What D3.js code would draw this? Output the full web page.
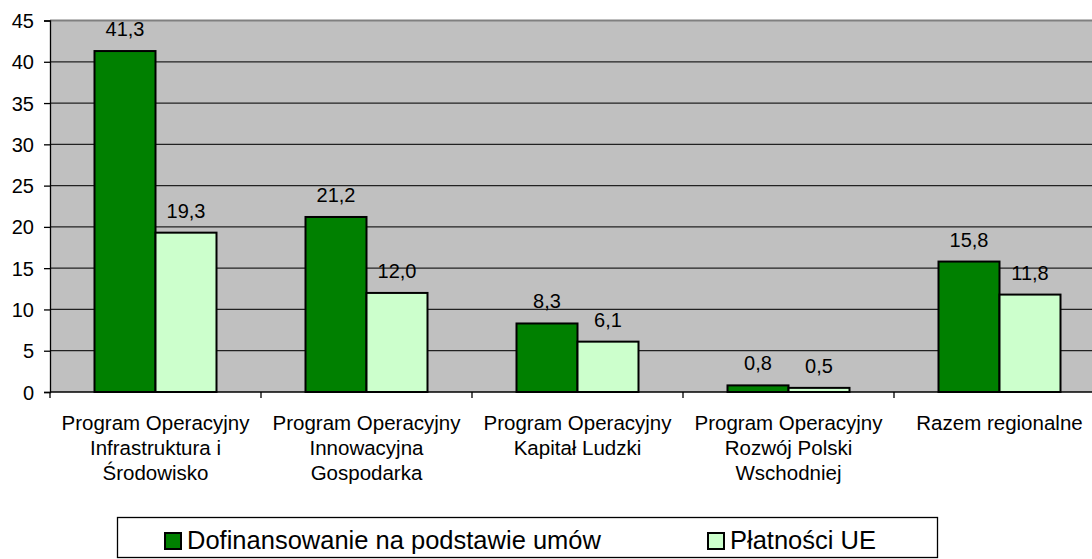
<!DOCTYPE html>
<html>
<head>
<meta charset="utf-8">
<script src="https://cdn.jsdelivr.net/npm/d3@7"></script>
<style>
  body { margin: 0; background: #fff; }
  svg text { font-family: 'Liberation Sans', Arial, sans-serif; fill: #000; }
</style>
</head>
<body>
<svg id="chart" width="1092" height="559"></svg>
<script>
const categories = [
  ['Program Operacyjny', 'Infrastruktura i', 'Środowisko'],
  ['Program Operacyjny', 'Innowacyjna', 'Gospodarka'],
  ['Program Operacyjny', 'Kapitał Ludzki'],
  ['Program Operacyjny', 'Rozwój Polski', 'Wschodniej'],
  ['Razem regionalne']
]
const seriesNames = ['Dofinansowanie na podstawie umów', 'Płatności UE']
const dofinansowanie = [41.3, 21.2, 8.3, 0.8, 15.8]
const platnosci = [19.3, 12.0, 6.1, 0.5, 11.8]
const yTicks = [0, 5, 10, 15, 20, 25, 30, 35, 40, 45]
const colors = ['#008000', '#CCFFCC']

document.addEventListener('DOMContentLoaded', function () {
  drawBarChart()
})

function drawBarChart() {
  const svg = d3.select('#chart')
  const margin = { top: 20.5, left: 50 }
  const innerWidth = 1055
  const innerHeight = 371.5
  const fmt = v => v.toFixed(1).replace('.', ',')

  const g = svg.append('g').attr('transform', `translate(${margin.left},${margin.top})`)

  const idx = d3.range(categories.length)
  const x = d3.scaleBand().domain(idx).range([0, innerWidth])
  const x1 = d3.scaleBand().domain([0, 1]).range([44.5, x.bandwidth() - 44.5])
  const y = d3.scaleLinear().domain([0, 45]).range([innerHeight, 0])

  // plot background
  g.append('rect')
    .attr('width', innerWidth).attr('height', innerHeight)
    .attr('fill', '#C0C0C0')
  g.append('line')
    .attr('x1', 0).attr('x2', innerWidth).attr('y1', 0).attr('y2', 0)
    .attr('stroke', '#808080').attr('stroke-width', 2)

  // gridlines
  g.append('g').selectAll('line')
    .data(yTicks.filter(t => t > 0 && t < 45))
    .join('line')
    .attr('x1', 0).attr('x2', innerWidth)
    .attr('y1', d => y(d)).attr('y2', d => y(d))
    .attr('stroke', '#222').attr('stroke-width', 1.3)

  // y axis
  const yAxis = g.append('g')
    .call(d3.axisLeft(y).tickValues(yTicks).tickSize(6).tickPadding(10).tickFormat(d => d))
  yAxis.select('.domain').attr('stroke', '#000').attr('stroke-width', 1.3)
  yAxis.selectAll('.tick line').attr('stroke', '#000').attr('stroke-width', 1.3)
  yAxis.selectAll('.tick text').style('font-size', '20px').attr('dy', '0.35em')

  // x axis
  const xAxis = g.append('g').attr('transform', `translate(0,${innerHeight})`)
  xAxis.append('line')
    .attr('x1', 0).attr('x2', innerWidth)
    .attr('stroke', '#000').attr('stroke-width', 1.3)
  xAxis.selectAll('.ctick')
    .data(d3.range(categories.length + 1))
    .join('line')
    .attr('x1', d => d * x.step()).attr('x2', d => d * x.step())
    .attr('y1', 0).attr('y2', 6)
    .attr('stroke', '#000').attr('stroke-width', 1.3)

  xAxis.selectAll('.clabel')
    .data(idx)
    .join('text')
    .attr('text-anchor', 'middle')
    .style('font-size', '20.5px')
    .attr('transform', d => `translate(${x(d) + x.bandwidth() / 2},0)`)
    .each(function (d) {
      const t = d3.select(this)
      categories[d].forEach((line, i) => {
        t.append('tspan').attr('x', 0).attr('y', 38 + i * 25).text(line)
      })
    })

  // bars
  const series = [dofinansowanie, platnosci]
  series.forEach((vals, s) => {
    const grp = g.append('g')
    grp.selectAll('rect')
      .data(vals)
      .join('rect')
      .attr('x', (d, i) => x(i) + x1(s))
      .attr('y', d => y(d))
      .attr('width', x1.bandwidth())
      .attr('height', d => innerHeight - y(d))
      .attr('fill', colors[s])
      .attr('stroke', '#000')
      .attr('stroke-width', 2)
    grp.selectAll('text')
      .data(vals)
      .join('text')
      .attr('text-anchor', 'middle')
      .style('font-size', '20px')
      .attr('x', (d, i) => x(i) + x1(s) + x1.bandwidth() / 2)
      .attr('y', d => y(d) - 15)
      .text(d => fmt(d))
  })

  // legend
  const legend = svg.append('g')
  legend.append('rect')
    .attr('x', 117.5).attr('y', 517.5).attr('width', 820).attr('height', 40)
    .attr('fill', '#fff').attr('stroke', '#000').attr('stroke-width', 1.3)
  const legendX = [165, 708]
  seriesNames.forEach((name, s) => {
    legend.append('rect')
      .attr('x', legendX[s]).attr('y', 533).attr('width', 16).attr('height', 16)
      .attr('fill', colors[s]).attr('stroke', '#000').attr('stroke-width', 2)
    legend.append('text')
      .attr('x', legendX[s] + 22).attr('y', 549)
      .style('font-size', '25.5px')
      .text(name)
  })
}
</script>
</body>
</html>
